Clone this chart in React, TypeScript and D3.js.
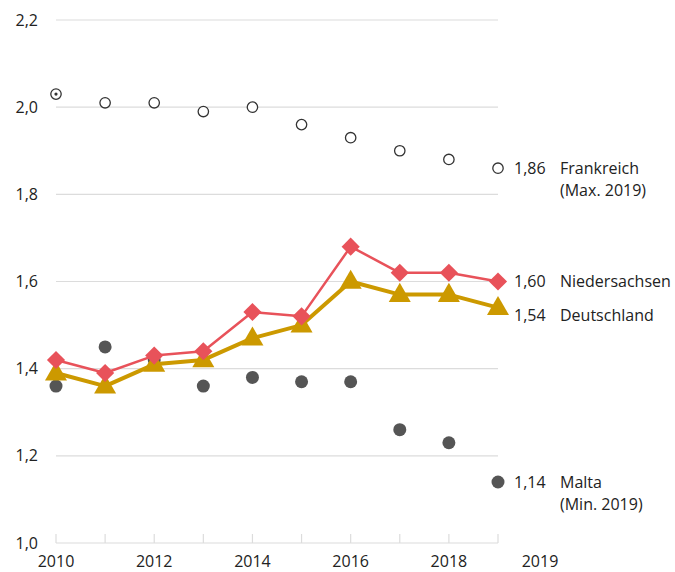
import React, { useEffect, useRef } from 'react';
import * as d3 from 'd3';

const years = [2010, 2011, 2012, 2013, 2014, 2015, 2016, 2017, 2018, 2019];
const yearLabels = [2010, 2012, 2014, 2016, 2018];
const yTicks = [1.0, 1.2, 1.4, 1.6, 1.8, 2.0, 2.2];

const frankreich = [2.03, 2.01, 2.01, 1.99, 2.0, 1.96, 1.93, 1.9, 1.88, 1.86];
const niedersachsen = [1.42, 1.39, 1.43, 1.44, 1.53, 1.52, 1.68, 1.62, 1.62, 1.6];
const deutschland = [1.39, 1.36, 1.41, 1.42, 1.47, 1.5, 1.6, 1.57, 1.57, 1.54];
const malta = [1.36, 1.45, 1.42, 1.36, 1.38, 1.37, 1.37, 1.26, 1.23, 1.14];

const RED = '#e8525a';
const GOLD = '#cc9900';
const DARK = '#555555';
const GRID = '#dcdcdc';
const FONT = "'Open Sans', 'Noto Sans', sans-serif";

const App: React.FC = () => {
  const ref = useRef<SVGSVGElement>(null);

  useEffect(() => {
    drawChart();
  }, []);

  const drawChart = () => {
    const svg = d3.select(ref.current);
    svg.selectAll('*').remove();

    const x = d3.scaleLinear().domain([2010, 2019]).range([56, 498]);
    const y = d3.scaleLinear().domain([1.0, 2.2]).range([543, 20]);
    const fmt = (v: number) => d3.format('.1f')(v).replace('.', ',');
    const fmt2 = (v: number) => d3.format('.2f')(v).replace('.', ',');

    // Gitternetz
    svg.append('g')
      .selectAll('line')
      .data(yTicks.filter(t => t > 1.0))
      .enter().append('line')
      .attr('x1', x(2010)).attr('x2', x(2019))
      .attr('y1', d => y(d)).attr('y2', d => y(d))
      .attr('stroke', GRID).attr('stroke-width', 1.2);

    // Y-Achse Beschriftung
    svg.append('g')
      .selectAll('text')
      .data(yTicks)
      .enter().append('text')
      .attr('x', 38).attr('y', d => y(d))
      .attr('dy', '0.35em')
      .attr('text-anchor', 'end')
      .style('font-family', FONT).style('font-size', '16px').attr('fill', '#222')
      .text(d => fmt(d));

    // X-Achse
    const xAxis = svg.append('g');
    xAxis.append('line')
      .attr('x1', x(2010)).attr('x2', x(2019))
      .attr('y1', y(1.0)).attr('y2', y(1.0))
      .attr('stroke', GRID).attr('stroke-width', 1.2);
    xAxis.selectAll('.tick')
      .data(years)
      .enter().append('line')
      .attr('x1', d => x(d)).attr('x2', d => x(d))
      .attr('y1', y(1.0)).attr('y2', y(1.0) - 9)
      .attr('stroke', GRID).attr('stroke-width', 1.2);
    xAxis.selectAll('text')
      .data(yearLabels)
      .enter().append('text')
      .attr('x', d => x(d)).attr('y', 561)
      .attr('dy', '0.35em')
      .attr('text-anchor', 'middle')
      .style('font-family', FONT).style('font-size', '16px').attr('fill', '#222')
      .text(d => d);
    xAxis.append('text')
      .attr('x', 540).attr('y', 561).attr('dy', '0.35em')
      .attr('text-anchor', 'middle')
      .style('font-family', FONT).style('font-size', '16px').attr('fill', '#222')
      .text('2019');

    const line = d3.line<number>()
      .x((_, i) => x(years[i]))
      .y(d => y(d));

    // Frankreich
    svg.append('g')
      .selectAll('circle')
      .data(frankreich)
      .enter().append('circle')
      .attr('cx', (_, i) => x(years[i])).attr('cy', d => y(d))
      .attr('r', 5.2)
      .attr('fill', 'white').attr('stroke', '#333').attr('stroke-width', 1.3);
    svg.append('circle')
      .attr('cx', x(years[0])).attr('cy', y(frankreich[0]))
      .attr('r', 1.6).attr('fill', '#333');

    // Malta
    svg.append('g')
      .selectAll('circle')
      .data(malta)
      .enter().append('circle')
      .attr('cx', (_, i) => x(years[i])).attr('cy', d => y(d))
      .attr('r', 6.5)
      .attr('fill', DARK);

    // Deutschland
    svg.append('path')
      .datum(deutschland)
      .attr('d', line)
      .attr('fill', 'none').attr('stroke', GOLD).attr('stroke-width', 4)
      .attr('stroke-linejoin', 'round');
    const tri = d3.symbol().type(d3.symbolTriangle).size(210);
    svg.append('g')
      .selectAll('path')
      .data(deutschland)
      .enter().append('path')
      .attr('d', tri)
      .attr('transform', (d, i) => `translate(${x(years[i])},${y(d) + 1})`)
      .attr('fill', GOLD);

    // Niedersachsen
    svg.append('path')
      .datum(niedersachsen)
      .attr('d', line)
      .attr('fill', 'none').attr('stroke', RED).attr('stroke-width', 2.5)
      .attr('stroke-linejoin', 'round');
    const dia = d3.symbol().type(d3.symbolDiamond2).size(210);
    svg.append('g')
      .selectAll('path')
      .data(niedersachsen)
      .enter().append('path')
      .attr('d', dia)
      .attr('transform', (d, i) => `translate(${x(years[i])},${y(d)})`)
      .attr('fill', RED);

    // Beschriftungen rechts
    const last = years.length - 1;
    const labels = [
      { v: frankreich[last], name: 'Frankreich', sub: '(Max. 2019)', dy: 0 },
      { v: niedersachsen[last], name: 'Niedersachsen', sub: '', dy: 0 },
      { v: deutschland[last], name: 'Deutschland', sub: '', dy: 8 },
      { v: malta[last], name: 'Malta', sub: '(Min. 2019)', dy: 0 },
    ];
    const lg = svg.append('g')
      .style('font-family', FONT).style('font-size', '16px').attr('fill', '#222');
    labels.forEach(l => {
      const ly = y(l.v) + l.dy;
      lg.append('text').attr('x', 514).attr('y', ly).attr('dy', '0.35em').text(fmt2(l.v));
      lg.append('text').attr('x', 560).attr('y', ly).attr('dy', '0.35em').text(l.name);
      if (l.sub) {
        lg.append('text').attr('x', 560).attr('y', ly + 22).attr('dy', '0.35em').text(l.sub);
      }
    });
  };

  return (
    <svg
      ref={ref}
      width={675}
      height={572}
      style={{ position: 'absolute', left: 0, top: 0, background: 'white' }}
    />
  );
};

export default App;
